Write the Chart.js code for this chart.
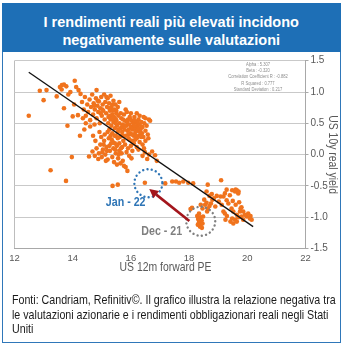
<!DOCTYPE html>
<html lang="it">
<head>
<meta charset="utf-8">
<title>Rendimenti reali e valutazioni</title>
<script src="https://cdn.jsdelivr.net/npm/chart.js@4.4.1/dist/chart.umd.min.js"></script>
<style>
  html, body { margin: 0; padding: 0; background: #ffffff; }
  body { width: 346px; height: 343px; position: relative; overflow: hidden; }
  #frame { position: absolute; left: 1.5px; top: 3px; width: 339.5px; height: 339.5px;
           border: 1.4px solid #2f77b9; box-sizing: border-box; }
  #header { position: absolute; left: 1.5px; top: 3px; width: 339.5px; height: 49px; background: #1e6fb6; }
  #header div { position: absolute; left: 0; top: 10px; width: 100%; text-align: center; color: #ffffff;
                font: bold 14.5px/18px "Liberation Sans", Arial, sans-serif; white-space: nowrap; }
  #chart { position: absolute; left: 0; top: 0; }
  #note { position: absolute; left: 11.5px; top: 293.3px; color: #1a1a1a; white-space: nowrap;
          font: 13px/14.2px "Liberation Sans", Arial, sans-serif;
          transform: scaleX(0.82); transform-origin: 0 0; }
</style>
</head>
<body>
<div id="frame"></div>
<div id="header"><div>I rendimenti reali più elevati incidono<br>negativamente sulle valutazioni</div></div>
<canvas id="chart" width="346" height="343"></canvas>
<div id="note">Fonti: Candriam, Refinitiv©. Il grafico illustra la relazione negativa tra<br>le valutazioni azionarie e i rendimenti obbligazionari reali negli Stati<br>Uniti</div>
<script>
const FONT = '"Liberation Sans", Arial, sans-serif';
const CONDENSE = 0.82;

// Axis ticks
const peTicks = [12, 14, 16, 18, 20, 22];
const yieldTicks = [-1.5, -1.0, -0.5, 0.0, 0.5, 1.0, 1.5];

// Monthly observations: [US 12m forward PE, US 10y real yield]
const earlyPoints = [
  [12.49,0.62],[12.87,1.02],[13.1,1.03],[13.0,0.87],[13.45,0.93],[13.56,1.08],[13.63,1.11],[13.7,1.12],
  [13.78,1.09],[13.62,1.04],[14.07,1.18],[14.12,1.08],[14.2,1.03],[14.27,0.97],[13.92,1.0],[13.85,0.96],
  [13.7,0.74],[13.82,0.46],[14.0,0.61],[14.18,0.63],[14.35,0.58],[13.97,-0.04],[13.24,-0.25],[13.77,-0.42],
  [14.82,1.03],[14.05,0.8],[14.25,0.3],[14.4,0.4]
];
const upperArm = [
  [14.32,0.84],[14.38,0.72],[14.42,0.92],[14.45,0.62],[14.5,0.8],[14.53,0.68],[14.58,0.88],[14.6,0.55],
  [14.63,0.76],[14.67,0.96],[14.7,0.64],[14.72,0.82],[14.76,0.72],[14.8,0.9],[14.82,0.58],[14.85,0.78],
  [14.88,0.68],[14.9,0.85],[14.93,0.5],[14.95,0.74],[14.98,0.92],[15.0,0.62],[15.03,0.8],[15.05,0.7],
  [15.08,0.96],[15.1,0.56],[15.12,0.84],[15.15,0.66],[15.18,0.76],[15.2,0.9],[15.23,0.6],[15.25,0.82],
  [15.28,0.7],[15.3,0.94],[15.33,0.76],[15.36,0.64],[15.4,0.86],[15.43,0.72],[15.47,0.8],[15.5,0.66],
  [15.55,0.76],[15.6,0.84],[14.6,0.45],[14.75,0.48],[14.45,0.5],
  [14.86,0.86],[15.02,0.72],[15.16,0.92],[15.26,0.74],[15.38,0.8],[14.96,0.66],[14.74,0.78],[15.45,0.58]
];
const coreCluster = [
  [15.22,0.5],[15.26,0.4],[15.3,0.56],[15.33,0.46],[15.36,0.34],[15.4,0.52],[15.42,0.6],[15.45,0.42],
  [15.48,0.3],[15.5,0.55],[15.52,0.46],[15.55,0.36],[15.57,0.62],[15.6,0.5],[15.62,0.28],[15.64,0.42],
  [15.67,0.58],[15.7,0.36],[15.72,0.48],[15.74,0.22],[15.76,0.64],[15.78,0.4],[15.8,0.54],[15.82,0.3],
  [15.84,0.46],[15.86,0.68],[15.88,0.38],[15.9,0.56],[15.92,0.26],[15.94,0.48],[15.96,0.6],[15.98,0.34],
  [16.0,0.44],[16.02,0.54],[16.04,0.22],[16.06,0.4],[16.08,0.5],[16.1,0.3],[16.12,0.6],[16.14,0.42],
  [16.16,0.36],[16.18,0.52],[16.2,0.26],[16.22,0.46],[16.24,0.38],[16.26,0.56],[16.28,0.3],[16.3,0.48],
  [16.33,0.4],[16.36,0.52],[16.38,0.34],[16.4,0.44],[16.43,0.28],[16.46,0.5],[16.5,0.38],[16.54,0.46],
  [16.58,0.32],[16.62,0.56],[16.66,0.54],[16.2,0.66],[16.0,0.66],[15.82,0.72],[16.3,0.62],[16.5,0.58],
  [16.44,0.6],[15.6,0.18],[15.7,0.12],[15.8,0.16],[15.9,0.1],[16.0,0.14],[16.1,0.18],[16.2,0.12],
  [16.3,0.2],[16.4,0.16],[16.5,0.22],[16.6,0.26],[16.05,0.06],[15.85,0.04],[15.95,0.24],[16.15,0.24],
  [16.35,0.28],[15.55,0.26],[15.45,0.18],[15.65,0.66],[15.5,0.7],[15.38,0.7],[16.26,0.08],[16.45,0.1],
  [15.75,0.3],[16.08,0.32],
  [15.28,0.62],[15.35,0.58],[15.47,0.5],[15.58,0.4],[15.66,0.3],[15.73,0.56],[15.79,0.46],[15.87,0.52],
  [15.93,0.4],[15.99,0.56],[16.03,0.32],[16.11,0.46],[16.17,0.3],[16.23,0.52],[16.31,0.36],[16.37,0.44],
  [16.27,0.42],[16.13,0.54],[15.91,0.32],[15.69,0.44]
];
const lowerLobe = [
  [14.68,0.05],[14.76,-0.02],[14.82,0.1],[14.9,0.02],[14.95,0.16],[15.0,-0.04],[15.04,0.08],[15.08,0.22],
  [15.12,0.0],[15.16,0.12],[15.2,-0.08],[15.24,0.26],[15.28,0.06],[15.32,0.18],[15.36,-0.04],[15.4,0.1],
  [15.44,0.3],[15.48,0.02],[15.52,0.14],[15.56,-0.06],[15.6,0.06],[15.64,-0.14],[15.68,0.02],[15.72,-0.1],
  [15.76,-0.18],[15.82,-0.2],[14.88,-0.07],[14.98,0.28],[15.1,0.32],[15.2,0.36],[14.92,0.36],[15.3,0.3],
  [15.42,-0.12],[15.52,-0.16],[14.78,0.22],[15.88,-0.26],[15.94,-0.02],[16.02,-0.06],[15.14,-0.1],[14.7,0.3],
  [14.56,-0.03],
  [15.06,0.16],[15.18,0.06],[15.26,0.14],[15.34,0.24],[15.46,0.08],[15.58,0.0],[15.66,0.1],[15.38,0.2],[15.02,0.04]
];
const tailPoints = [
  [16.48,0.04],[16.56,-0.07],[16.62,0.0],[16.73,0.05],[16.83,-0.01],[16.89,-0.1],[16.4,-0.02]
];
const lowRow = [
  [15.37,-0.5],[15.55,-0.48],[16.48,-0.45],[17.18,-0.46],[17.42,-0.43],[17.55,-0.43],[17.66,-0.45],
  [17.8,-0.43],[17.97,-0.45],[18.14,-0.46],[18.64,-0.48],[19.1,-0.41]
];
const decCluster = [
  [18.28,-0.98],[18.31,-1.03],[18.34,-1.08],[18.38,-1.0],[18.4,-1.12],[18.43,-1.05],[18.46,-1.1],[18.37,-1.15],
  [18.3,-1.12],[18.48,-0.99],[18.34,-0.94],[18.44,-1.17],[18.36,-1.04],[18.05,-0.87],[18.1,-0.85],[18.4,-0.8],
  [18.46,-0.86],[18.55,-0.8],[18.6,-0.77],[18.64,-0.86],[18.7,-0.82],[18.75,-0.78],[18.62,-0.91],[18.8,-0.72],
  [18.6,-0.59],[18.7,-0.66],[18.78,-0.63],[18.85,-0.7],[18.9,-0.83],[18.95,-0.66],[18.52,-0.72]
];
const rightCluster = [
  [19.08,-0.67],[19.02,-0.75],[19.12,-0.8],[19.18,-0.67],[19.23,-0.62],[19.29,-0.73],[19.29,-0.56],[19.4,-0.65],
  [19.48,-0.57],[19.58,-0.59],[19.6,-0.56],[19.64,-0.57],[19.69,-0.62],[19.7,-0.59],[19.35,-0.78],[19.5,-0.74],
  [19.6,-0.8],[19.72,-0.76],[19.8,-0.84],[19.77,-0.86],[19.18,-0.91],[19.23,-0.94],[19.46,-0.86],[19.52,-0.91],
  [19.64,-0.96],[19.8,-0.99],[19.86,-1.04],[19.98,-0.99],[20.03,-0.94],[20.09,-1.02],[20.15,-1.04],[20.11,-0.98],
  [19.58,-1.04],[19.52,-1.1],[19.64,-1.07],[19.75,-0.91],[19.86,-0.91],[19.92,-0.96],[19.42,-1.07],[19.48,-1.02],
  [19.3,-0.98],[19.25,-1.04],[19.7,-1.0]
];

// Fitted regression line end points
const fitLine = [[12.49, 1.315], [20.2, -1.15]];
const statLines = [
  'Alpha : 5.307',
  'Beta : -0.320',
  'Correlation Coefficient R : -0.882',
  'R Squared : 0.777',
  'Standard Deviation : 0.217'
];

// Highlighted months
const janRing = [16.6, -0.458];
const decRing = [18.4, -1.065];
const arrowFrom = [18.01, -1.06];
const arrowTo = [16.63, -0.55];
const janLabel = [15.82, -0.765];
const decLabel = [17.06, -1.22];

const toXY = p => ({ x: p[0], y: p[1] });
const observations = [].concat(earlyPoints, upperArm, coreCluster, lowerLobe, tailPoints, lowRow, decCluster, rightCluster).map(toXY);

// text in a narrow face, drawn by squeezing the regular one horizontally
function narrowText(ctx, text, x, y, font, color, rotation) {
  ctx.save();
  ctx.translate(x, y);
  if (rotation) ctx.rotate(rotation);
  ctx.scale(CONDENSE, 1);
  ctx.font = font;
  ctx.fillStyle = color;
  ctx.textAlign = 'center';
  ctx.textBaseline = 'middle';
  ctx.fillText(text, 0, 0);
  ctx.restore();
}

const annotations = {
  id: 'annotations',
  afterDatasetsDraw(chart) {
    const { ctx, chartArea, scales: { x, y } } = chart;
    const X = v => x.getPixelForValue(v);
    const Y = v => y.getPixelForValue(v);
    ctx.save();

    const ring = (c, r, color) => {
      ctx.beginPath();
      ctx.setLineDash([0.01, 4.3]);
      ctx.lineCap = 'round';
      ctx.lineWidth = 2.4;
      ctx.strokeStyle = color;
      ctx.arc(X(c[0]), Y(c[1]), r, 0, Math.PI * 2);
      ctx.stroke();
    };
    ring(janRing, 14, '#2e75b6');
    ring(decRing, 14.5, '#7f7f7f');
    ctx.setLineDash([]);

    // arrow from December to January
    const x0 = X(arrowFrom[0]), y0 = Y(arrowFrom[1]);
    const x1 = X(arrowTo[0]), y1 = Y(arrowTo[1]);
    const ang = Math.atan2(y1 - y0, x1 - x0);
    const head = 9, hw = 4.5;
    const bx = x1 - head * Math.cos(ang), by = y1 - head * Math.sin(ang);
    ctx.strokeStyle = '#a3151c';
    ctx.fillStyle = '#a3151c';
    ctx.lineWidth = 2.6;
    ctx.lineCap = 'butt';
    ctx.beginPath(); ctx.moveTo(x0, y0); ctx.lineTo(bx, by); ctx.stroke();
    ctx.beginPath();
    ctx.moveTo(x1, y1);
    ctx.lineTo(bx + hw * Math.sin(ang), by - hw * Math.cos(ang));
    ctx.lineTo(bx - hw * Math.sin(ang), by + hw * Math.cos(ang));
    ctx.closePath(); ctx.fill();
    ctx.restore();

    narrowText(ctx, 'Jan - 22', X(janLabel[0]), Y(janLabel[1]), 'bold 13px ' + FONT, '#2e75b6');
    narrowText(ctx, 'Dec - 21', X(decLabel[0]), Y(decLabel[1]), 'bold 13px ' + FONT, '#7f7f7f');

    // regression statistics
    statLines.forEach((t, i) =>
      narrowText(ctx, t, chartArea.left + 243.5, chartArea.top + 3.6 + i * 6.4, '5px ' + FONT, '#8c8c8c'));

    // axis titles
    narrowText(ctx, 'US 12m forward PE', (chartArea.left + chartArea.right) / 2 + 5.5, chartArea.bottom + 19.2,
      '12.7px ' + FONT, '#595959');
    narrowText(ctx, 'US 10y real yield', 333, (chartArea.top + chartArea.bottom) / 2,
      '12.7px ' + FONT, '#595959', Math.PI / 2);
  }
};

Chart.defaults.font.family = FONT;

new Chart(document.getElementById('chart'), {
  type: 'scatter',
  data: {
    datasets: [
      {
        type: 'line',
        data: fitLine.map(toXY),
        borderColor: '#111111',
        borderWidth: 1.3,
        pointRadius: 0,
        fill: false
      },
      {
        data: observations,
        backgroundColor: '#f0731d',
        borderWidth: 0,
        pointRadius: 2.3
      }
    ]
  },
  options: {
    responsive: false,
    animation: false,
    devicePixelRatio: 1,
    layout: { padding: { left: 14.5, top: 60.7, right: 0, bottom: 58 } },
    plugins: { legend: { display: false }, tooltip: { enabled: false } },
    scales: {
      x: {
        type: 'linear', position: 'bottom', min: 12, max: 22,
        afterBuildTicks: s => { s.ticks = peTicks.map(v => ({ value: v })); },
        afterFit: s => { s.height = 36.5; },
        grid: {
          drawTicks: false,
          color: c => (c.tick && c.tick.value === 12) ? '#bdbdbd' : 'rgba(0,0,0,0)'
        },
        border: { display: true, color: '#a8a8a8', width: 1 },
        ticks: { padding: 4, color: '#595959', font: { size: 9.5 }, maxRotation: 0, autoSkip: false }
      },
      y: {
        type: 'linear', position: 'right', min: -1.5, max: 1.5,
        afterBuildTicks: s => { s.ticks = yieldTicks.map(v => ({ value: v })); },
        afterFit: s => { s.width = 40.5; },
        grid: { color: '#c9c9c9', tickLength: 3, tickColor: '#a8a8a8' },
        border: { display: true, color: '#a8a8a8', width: 1 },
        ticks: { padding: 2, color: '#595959', font: { size: 10 }, callback: v => v.toFixed(1) }
      }
    }
  },
  plugins: [annotations]
});
</script>
</body>
</html>
